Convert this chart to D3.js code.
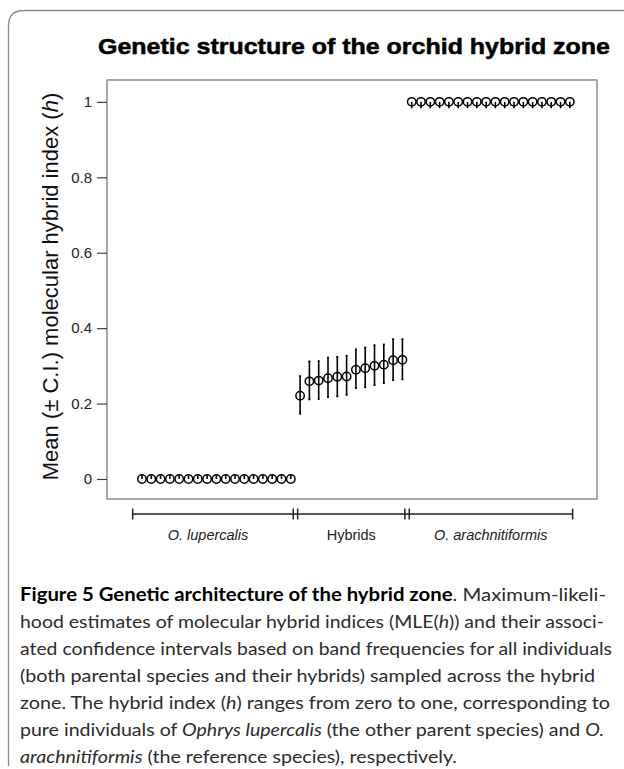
<!DOCTYPE html>
<html>
<head>
<meta charset="utf-8">
<script src="https://cdn.jsdelivr.net/npm/d3@7"></script>
<style>
  html, body { margin: 0; padding: 0; background: #fff; }
  svg { display: block; }
</style>
</head>
<body>
<svg id="fig" width="624" height="769"></svg>
<script>
// individuals per group, mean hybrid index and confidence limits
var groupNames = ['O. lupercalis', 'Hybrids', 'O. arachnitiformis'];
var groupItalic = [true, false, true];

var lupercalisMean = [0, 0, 0, 0, 0, 0, 0, 0, 0, 0, 0, 0, 0, 0, 0, 0, 0];
var lupercalisLow  = [0, 0, 0, 0, 0, 0, 0, 0, 0, 0, 0, 0, 0, 0, 0, 0, 0];
var lupercalisHigh = [0.01, 0.01, 0.01, 0.01, 0.01, 0.01, 0.01, 0.01, 0.01, 0.01, 0.01, 0.01, 0.01, 0.01, 0.01, 0.01, 0.01];

var hybridMean = [0.221, 0.259, 0.261, 0.267, 0.271, 0.272, 0.290, 0.294, 0.300, 0.303, 0.315, 0.316];
var hybridLow  = [0.173, 0.211, 0.212, 0.217, 0.219, 0.223, 0.241, 0.243, 0.249, 0.254, 0.262, 0.264];
var hybridHigh = [0.273, 0.312, 0.313, 0.322, 0.324, 0.327, 0.344, 0.349, 0.355, 0.357, 0.371, 0.371];

var arachMean = [1, 1, 1, 1, 1, 1, 1, 1, 1, 1, 1, 1, 1, 1, 1, 1, 1, 1];
var arachLow  = [0.983, 0.983, 0.983, 0.983, 0.983, 0.983, 0.983, 0.983, 0.983, 0.983, 0.983, 0.983, 0.983, 0.983, 0.983, 0.983, 0.983, 0.983];
var arachHigh = [1, 1, 1, 1, 1, 1, 1, 1, 1, 1, 1, 1, 1, 1, 1, 1, 1, 1];

var yTicks = [0, 0.2, 0.4, 0.6, 0.8, 1];
var yTickLabels = ['0', '0.2', '0.4', '0.6', '0.8', '1'];

var chartTitle = 'Genetic structure of the orchid hybrid zone';

var svg = d3.select('#fig');

// outer figure frame, rounded top-left corner
svg.append('path')
    .attr('d', 'M8.5,766 L8.5,26 Q8.5,10.5 24,10.5 L640,10.5')
    .attr('fill', 'none')
    .attr('stroke', '#8a8a8a')
    .attr('stroke-width', 1.3);

svg.append('text')
    .attr('x', 354)
    .attr('y', 54)
    .attr('text-anchor', 'middle')
    .attr('font-family', 'Liberation Sans, Arial, sans-serif')
    .attr('font-weight', 'bold')
    .attr('font-size', 22)
    .attr('stroke', '#000')
    .attr('stroke-width', 0.5)
    .attr('textLength', 512)
    .attr('lengthAdjust', 'spacingAndGlyphs')
    .text(chartTitle);

var box = {left: 107, right: 597, top: 80, bottom: 499};

// one continuous index over all individuals
var points = [];
function addGroup(g, means, lows, highs) {
    means.forEach(function(m, i) {
        points.push({group: g, mean: m, low: lows[i], high: highs[i]});
    });
}
addGroup(0, lupercalisMean, lupercalisLow, lupercalisHigh);
addGroup(1, hybridMean, hybridLow, hybridHigh);
addGroup(2, arachMean, arachLow, arachHigh);
points.forEach(function(p, i) { p.idx = i; });

var x = d3.scaleLinear().domain([-3.76, 48.92]).range([box.left, box.right]);
var y = d3.scaleLinear().domain([-0.053, 1.058]).range([box.bottom, box.top]);

svg.append('rect')
    .attr('x', box.left)
    .attr('y', box.top)
    .attr('width', box.right - box.left)
    .attr('height', box.bottom - box.top)
    .attr('fill', 'none')
    .attr('stroke', '#6e6e6e')
    .attr('stroke-width', 1.2);

var yAxis = d3.axisLeft(y)
    .tickValues(yTicks)
    .tickFormat(function(d, i) { return yTickLabels[i]; })
    .tickSize(10)
    .tickPadding(5);

var yg = svg.append('g')
    .attr('transform', 'translate(' + box.left + ',0)')
    .call(yAxis);
yg.select('.domain').remove();
yg.selectAll('line').attr('stroke', '#333').attr('stroke-width', 1.1);
yg.selectAll('text')
    .attr('font-family', 'Liberation Sans, Arial, sans-serif')
    .attr('font-size', 15)
    .attr('fill', '#222');

var yLabel = svg.append('text')
    .attr('transform', 'translate(58,' + ((box.top + box.bottom) / 2 - 3) + ') rotate(-90)')
    .attr('text-anchor', 'middle')
    .attr('font-family', 'Liberation Sans, Arial, sans-serif')
    .attr('font-size', 22)
    .attr('fill', '#111');
yLabel.append('tspan').text('Mean (± C.I.) molecular hybrid index (');
yLabel.append('tspan').attr('font-style', 'italic').text('h');
yLabel.append('tspan').text(')');

// confidence intervals
var bars = svg.append('g').attr('stroke', '#000').attr('stroke-width', 1.6);
bars.selectAll('line.ci')
    .data(points)
    .enter().append('line')
    .attr('class', 'ci')
    .attr('x1', function(d) { return x(d.idx); })
    .attr('x2', function(d) { return x(d.idx); })
    .attr('y1', function(d) { return y(d.low); })
    .attr('y2', function(d) { return y(d.high); });
bars.selectAll('line.cap')
    .data(points.filter(function(d) { return d.group === 1; }).reduce(function(a, d) {
        return a.concat([{idx: d.idx, v: d.low}, {idx: d.idx, v: d.high}]);
    }, []))
    .enter().append('line')
    .attr('class', 'cap')
    .attr('x1', function(d) { return x(d.idx) - 1; })
    .attr('x2', function(d) { return x(d.idx) + 1; })
    .attr('y1', function(d) { return y(d.v); })
    .attr('y2', function(d) { return y(d.v); });

svg.append('g').selectAll('circle')
    .data(points)
    .enter().append('circle')
    .attr('cx', function(d) { return x(d.idx); })
    .attr('cy', function(d) { return y(d.mean); })
    .attr('r', 4.2)
    .attr('fill', 'none')
    .attr('stroke', '#000')
    .attr('stroke-width', 1.5);

// group brackets under the plot
var groupBounds = [-1, 16.5, 28.5, 46.3];
var bracketY = 514;
var br = svg.append('g').attr('stroke', '#222').attr('stroke-width', 1.5);
br.append('line')
    .attr('x1', x(groupBounds[0])).attr('x2', x(groupBounds[3]))
    .attr('y1', bracketY).attr('y2', bracketY);
groupBounds.forEach(function(b, i) {
    var offs = (i === 0 || i === groupBounds.length - 1) ? [0] : [-2.2, 2.2];
    offs.forEach(function(o) {
        br.append('line')
            .attr('x1', x(b) + o).attr('x2', x(b) + o)
            .attr('y1', bracketY - 5.5).attr('y2', bracketY + 5.5);
    });
});

var labelPos = [7.1, 22.5, 37.5];
svg.append('g').selectAll('text')
    .data(groupNames)
    .enter().append('text')
    .attr('x', function(d, i) { return x(labelPos[i]); })
    .attr('y', 540)
    .attr('text-anchor', 'middle')
    .attr('font-family', 'Liberation Sans, Arial, sans-serif')
    .attr('font-size', 14.5)
    .attr('font-style', function(d, i) { return groupItalic[i] ? 'italic' : 'normal'; })
    .attr('fill', '#222')
    .text(function(d) { return d; });

// caption, one text per line: [text, italic?, bold?] runs
var captionLines = [
    [['Figure 5 Genetic architecture of the hybrid zone', 0, 1], ['. Maximum-likeli-', 0, 0]],
    [['hood estimates of molecular hybrid indices (MLE(', 0, 0], ['h', 1, 0], [')) and their associ-', 0, 0]],
    [['ated confidence intervals based on band frequencies for all individuals', 0, 0]],
    [['(both parental species and their hybrids) sampled across the hybrid', 0, 0]],
    [['zone. The hybrid index (', 0, 0], ['h', 1, 0], [') ranges from zero to one, corresponding to', 0, 0]],
    [['pure individuals of ', 0, 0], ['Ophrys lupercalis', 1, 0], [' (the other parent species) and ', 0, 0], ['O.', 1, 0]],
    [['arachnitiformis', 1, 0], [' (the reference species), respectively.', 0, 0]]
];
var captionWidths = [586, 584, 592, 575, 590, 584, 437];

var cap = svg.append('g')
    .attr('font-family', 'Lato, Open Sans, sans-serif')
    .attr('font-size', 18)
    .attr('fill', '#2b2b2b');
captionLines.forEach(function(runs, li) {
    var t = cap.append('text')
        .attr('x', 20)
        .attr('y', 601 + li * 27);
    if (captionWidths[li]) {
        t.attr('textLength', captionWidths[li]).attr('lengthAdjust', 'spacingAndGlyphs');
    }
    runs.forEach(function(r) {
        t.append('tspan')
            .attr('font-style', r[1] ? 'italic' : 'normal')
            .attr('font-weight', r[2] ? 'bold' : 'normal')
            .attr('fill', r[2] ? '#000' : null)
            .text(r[0]);
    });
});
</script>
</body>
</html>
